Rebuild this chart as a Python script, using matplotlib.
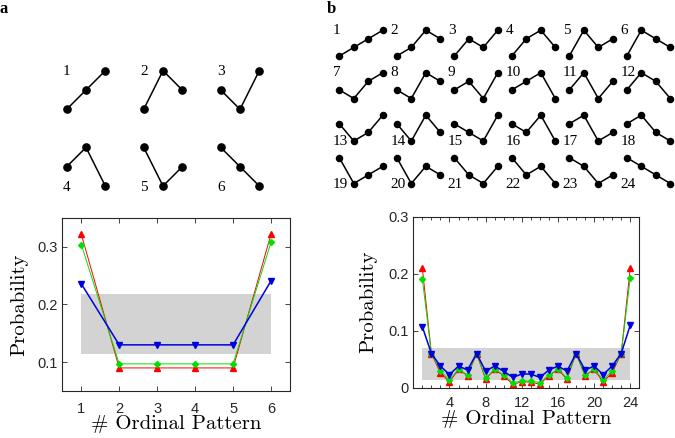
import matplotlib
matplotlib.use("Agg")
import matplotlib.pyplot as plt
from matplotlib.patches import Rectangle

# ---------------- data ----------------
patterns_a = [(0, 1, 2), (0, 2, 1), (1, 0, 2), (1, 2, 0), (2, 0, 1), (2, 1, 0)]
patterns_b = [
    (0, 1, 2, 3), (0, 1, 3, 2), (0, 2, 1, 3), (0, 2, 3, 1), (0, 3, 1, 2), (0, 3, 2, 1),
    (1, 0, 2, 3), (1, 0, 3, 2), (1, 2, 0, 3), (1, 2, 3, 0), (1, 3, 0, 2), (1, 3, 2, 0),
    (2, 0, 1, 3), (2, 0, 3, 1), (2, 1, 0, 3), (2, 1, 3, 0), (2, 3, 0, 1), (2, 3, 1, 0),
    (3, 0, 1, 2), (3, 0, 2, 1), (3, 1, 0, 2), (3, 1, 2, 0), (3, 2, 0, 1), (3, 2, 1, 0),
]

x_a = [1, 2, 3, 4, 5, 6]
red_a = [0.322, 0.090, 0.090, 0.090, 0.090, 0.322]
green_a = [0.304, 0.097, 0.097, 0.097, 0.097, 0.308]
blue_a = [0.236, 0.130, 0.130, 0.130, 0.130, 0.241]
band_a = (1, 6, 0.115, 0.219)

x_b = list(range(1, 25))
red_b = [0.210, 0.060, 0.026, 0.010, 0.032, 0.021, 0.060, 0.015, 0.032, 0.021, 0.006, 0.010,
         0.010, 0.006, 0.021, 0.032, 0.015, 0.060, 0.021, 0.032, 0.010, 0.026, 0.060, 0.210]
green_b = [0.191, 0.060, 0.030, 0.013, 0.033, 0.022, 0.060, 0.017, 0.033, 0.022, 0.009, 0.012,
           0.012, 0.009, 0.022, 0.033, 0.017, 0.060, 0.022, 0.033, 0.013, 0.030, 0.060, 0.193]
blue_b = [0.107, 0.060, 0.038, 0.023, 0.038, 0.031, 0.060, 0.029, 0.038, 0.029, 0.018, 0.024,
          0.024, 0.018, 0.031, 0.038, 0.029, 0.060, 0.031, 0.038, 0.023, 0.038, 0.060, 0.110]
band_b = (1, 24, 0.013, 0.070)

# ---------------- style ----------------
W, H = 675, 438
fig = plt.figure(figsize=(W / 100, H / 100), dpi=100)
serif = ['Liberation Serif', 'DejaVu Serif']
label_font = ['cmr10', 'Liberation Serif', 'DejaVu Serif']
sans = ['Liberation Sans', 'DejaVu Sans']
dark = '#262626'

# overlay axes in pixel coordinates for pattern sketches
ov = fig.add_axes([0, 0, 1, 1])
ov.set_xlim(0, W)
ov.set_ylim(H, 0)
ov.axis('off')

# panel a sketches
for i, p in enumerate(patterns_a):
    r, c = divmod(i, 3)
    x0 = 66.7 + 77 * c
    base = 109.3 + 76.7 * r
    xs = [x0 + 19.3 * k for k in range(len(p))]
    ys = [base - 19.3 * v for v in p]
    ov.plot(xs, ys, '-', color='black', lw=1.1, marker='o', ms=5.2, mfc='black', mec='black')
    if r == 0:
        ov.text(x0, base - 2 * 19.3 + 1, str(i + 1), ha='center', va='center',
                fontsize=11, family=serif)
    else:
        ov.text(x0, base + 1.3, str(i + 1), ha='center', va='center',
                fontsize=11, family=serif)

# panel b sketches
for i, p in enumerate(patterns_b):
    r, c = divmod(i, 6)
    x0 = 339.3 + 57.5 * c
    base = 56 + 42.5 * r
    xs = [x0 + 14.5 * k for k in range(len(p))]
    ys = [base - 8.6 * v for v in p]
    ov.plot(xs, ys, '-', color='black', lw=1.1, marker='o', ms=4.4, mfc='black', mec='black')
    if r < 2:
        ov.text(x0 - 6.5, base - 3 * 8.6, str(i + 1), ha='left', va='center',
                fontsize=11, family=serif)
    else:
        ov.text(x0 - 6.5, base + 0.5, str(i + 1), ha='left', va='center',
                fontsize=11, family=serif)

ov.text(0, 1, 'a', ha='left', va='top', fontsize=12, fontweight='bold', family=serif)
ov.text(327, 1, 'b', ha='left', va='top', fontsize=12, fontweight='bold', family=serif)


def style_axes(ax):
    for s in ax.spines.values():
        s.set_color(dark)
        s.set_linewidth(0.8)
    ax.tick_params(which='both', direction='in', top=True, right=True, colors=dark,
                   labelsize=10.5, width=0.6)
    ax.tick_params(which='major', length=3.5)
    ax.tick_params(which='minor', length=2)
    for lab in ax.get_xticklabels() + ax.get_yticklabels():
        lab.set_family(sans)


def draw(ax, x, red, green, blue, band):
    x0, x1, y0, y1 = band
    ax.add_patch(Rectangle((x0, y0), x1 - x0, y1 - y0, facecolor='#d3d3d3',
                           edgecolor='none', zorder=1))
    ax.plot(x, red, '-', color='#ff0000', lw=0.7, marker='^', ms=4, zorder=3)
    ax.plot(x, green, '-', color='#00e000', lw=0.7, marker='D', ms=3, zorder=4)
    ax.plot(x, blue, '-', color='#0000dd', lw=1.1, marker='v', ms=4, zorder=5)


# panel a plot
axa = fig.add_axes([62.3 / W, 1 - 391 / H, (290 - 62.3) / W, (391 - 218) / H])
draw(axa, x_a, red_a, green_a, blue_a, band_a)
axa.set_xlim(0.5, 6.5)
axa.set_ylim(0.05, 0.35)
axa.set_xticks([1, 2, 3, 4, 5, 6])
axa.set_xticklabels(['1', '2', '3', '4', '5', '6'])
axa.set_yticks([0.1, 0.2, 0.3])
axa.set_yticklabels(['0.1', '0.2', '0.3'])
style_axes(axa)
axa.tick_params(axis='x', pad=8)
axa.set_xlabel('# Ordinal Pattern', fontsize=15, family=label_font, labelpad=-1)
axa.set_ylabel('Probability', fontsize=15, family=label_font, labelpad=6)

# panel b plot
axb = fig.add_axes([413.3 / W, 1 - 387.7 / H, (639.3 - 413.3) / W, (387.7 - 216.7) / H])
draw(axb, x_b, red_b, green_b, blue_b, band_b)
axb.set_xlim(0, 25)
axb.set_ylim(0, 0.3)
axb.set_xticks([4, 8, 12, 16, 20, 24])
axb.set_xticklabels(['4', '8', '12', '16', '20', '24'])
axb.set_xticks(x_b, minor=True)
axb.set_yticks([0, 0.1, 0.2, 0.3])
axb.set_yticklabels(['0', '0.1', '0.2', '0.3'])
style_axes(axb)
axb.tick_params(axis='x', pad=6)
axb.set_xlabel('# Ordinal Pattern', fontsize=15, family=label_font, labelpad=0)
axb.set_ylabel('Probability', fontsize=15, family=label_font, labelpad=8)

fig.savefig('out.png', dpi=100)
